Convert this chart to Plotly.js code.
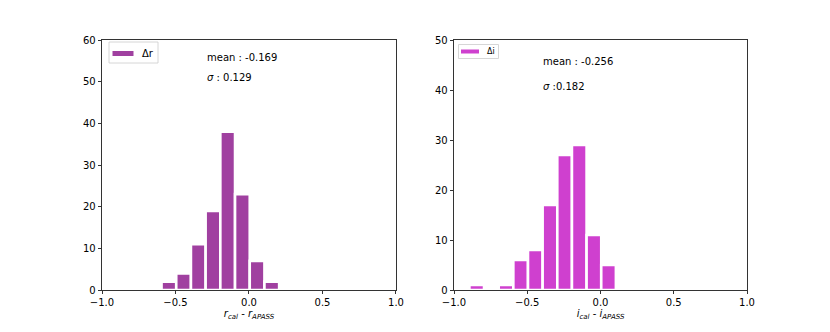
<!DOCTYPE html>
<html>
<head>
<meta charset="utf-8">
<script src="https://cdn.plot.ly/plotly-3.0.1.min.js"></script>
<style>
  body { margin: 0; background: #fff; }
  #chart { width: 830px; height: 332px; }
</style>
</head>
<body>
<div id="chart"></div>
<script>
// histogram bins (bin centres) and counts
var binsR = [-0.545, -0.445, -0.345, -0.245, -0.145, -0.045, 0.055, 0.155];
var countsR = [2, 4, 11, 19, 38, 23, 7, 2];

var binsI = [-0.845, -0.745, -0.645, -0.545, -0.445, -0.345, -0.245, -0.145, -0.045, 0.055];
var countsI = [1, 0, 1, 6, 8, 17, 27, 29, 11, 5];

var xTickVals = [-1, -0.5, 0, 0.5, 1];
var xTickText = ["\u22121.0", "\u22120.5", "0.0", "0.5", "1.0"];

var statsR = {mean: "-0.169", sigma: " : 0.129"};
var statsI = {mean: "-0.256", sigma: " :0.182"};

var colorR = '#a040a0';
var colorI = '#cf40cf';
var font = "DejaVu Sans, sans-serif";
var W = 830, H = 332;

var traceR = {
    x: binsR,
    y: countsR,
    type: 'bar',
    width: 0.1,
    name: '\u0394r',
    marker: {color: colorR, line: {color: '#ffffff', width: 2.6}},
    xaxis: 'x',
    yaxis: 'y',
    hoverinfo: 'skip'
};

var traceI = {
    x: binsI,
    y: countsI,
    type: 'bar',
    width: 0.1,
    name: '\u0394i',
    marker: {color: colorI, line: {color: '#ffffff', width: 2.6}},
    xaxis: 'x2',
    yaxis: 'y2',
    hoverinfo: 'skip'
};

function xAxis(dom, anchor, title) {
    return {
        domain: dom,
        anchor: anchor,
        range: [-1, 1],
        tickvals: xTickVals,
        ticktext: xTickText,
        ticks: 'outside',
        ticklen: 3.5,
        tickwidth: 0.8,
        tickcolor: '#000',
        showline: true,
        mirror: true,
        linecolor: '#000',
        linewidth: 0.8,
        showgrid: false,
        zeroline: false,
        fixedrange: true,
        tickfont: {family: font, size: 10, color: '#000'},
        title: {text: title, standoff: 0, font: {family: font, size: 10, color: '#000'}}
    };
}

function yAxis(anchor, top) {
    return {
        domain: [0.1265, 0.8795],
        anchor: anchor,
        range: [0, top],
        dtick: 10,
        ticks: 'outside',
        ticklen: 3.5,
        tickwidth: 0.8,
        tickcolor: '#000',
        showline: true,
        mirror: true,
        linecolor: '#000',
        linewidth: 0.8,
        showgrid: false,
        zeroline: false,
        fixedrange: true,
        tickfont: {family: font, size: 10, color: '#000'}
    };
}

// text placed in pixel coords of the figure
function note(px, py, text, size) {
    return {
        xref: 'paper', yref: 'paper',
        x: px / W, y: 1 - py / H,
        xanchor: 'left', yanchor: 'middle',
        text: text,
        showarrow: false,
        font: {family: font, size: size || 10, color: '#000'}
    };
}

function box(x0, y0, x1, y1, fill, line) {
    return {
        type: 'rect', xref: 'paper', yref: 'paper', layer: 'above',
        x0: x0 / W, x1: x1 / W, y0: 1 - y1 / H, y1: 1 - y0 / H,
        fillcolor: fill,
        line: line ? {color: line, width: 0.8} : {width: 0}
    };
}

var layout = {
    width: W,
    height: H,
    margin: {l: 0, r: 0, t: 0, b: 0},
    paper_bgcolor: '#fff',
    plot_bgcolor: '#fff',
    bargap: 0,
    showlegend: false,
    xaxis: xAxis([0.1229, 0.4771], 'y', '<i>r</i><sub><i>cal</i></sub> - <i>r</i><sub><i>APASS</i></sub>'),
    yaxis: yAxis('x', 60),
    xaxis2: xAxis([0.547, 0.9], 'y2', '<i>i</i><sub><i>cal</i></sub> - <i>i</i><sub><i>APASS</i></sub>'),
    yaxis2: yAxis('x2', 50),
    // legend frames and patches, drawn like the matplotlib legends
    shapes: [
        box(109, 42, 158, 63, 'rgba(255,255,255,0.8)', '#cccccc'),
        box(112.5, 51, 133.5, 56, colorR),
        box(458.5, 44.5, 498.5, 58.5, 'rgba(255,255,255,0.8)', '#cccccc'),
        box(461, 49.5, 479, 53.5, colorI)
    ],
    annotations: [
        note(140, 53.3, traceR.name, 10),
        note(484.5, 51.5, traceI.name, 8),
        note(204.5, 57.3, 'mean : ' + statsR.mean),
        note(204.5, 77.3, '<i>\u03c3</i>' + statsR.sigma),
        note(540.5, 61.3, 'mean : ' + statsI.mean),
        note(540.5, 86.3, '<i>\u03c3</i>' + statsI.sigma)
    ]
};

Plotly.newPlot('chart', [traceR, traceI], layout, {displayModeBar: false, staticPlot: true});
</script>
</body>
</html>
